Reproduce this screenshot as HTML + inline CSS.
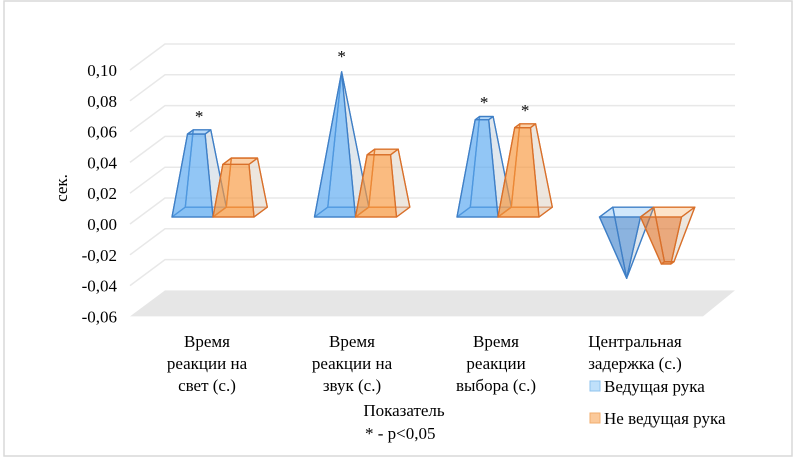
<!DOCTYPE html>
<html><head><meta charset="utf-8"><style>
body{margin:0;background:#fff}
svg{display:block}
text{font-family:"Liberation Serif","Times New Roman","DejaVu Serif",serif}
</style></head><body>
<svg id="c" width="795" height="458" viewBox="0 0 795 458">
<rect x="4" y="1" width="788" height="455" fill="#fff" stroke="#d9d9d9" stroke-width="1.5"/>
<g id="grid"></g><g id="bars"></g><g id="txt"></g>
</svg>
<script>
const categories=[["Время","реакции на","свет (с.)"],["Время","реакции на","звук (с.)"],["Время","реакции","выбора (с.)"],["Центральная","задержка (с.)"]];
const leading=[0.052,0.091,0.061,-0.043];
const nonLeading=[0.033,0.039,0.056,-0.033];
const sig1=[true,true,true,false];
const sig2=[false,false,true,false];
const ticks=[-0.06,-0.04,-0.02,0,0.02,0.04,0.06,0.08,0.10];
const tickLabels=["-0,06","-0,04","-0,02","0,00","0,02","0,04","0,06","0,08","0,10"];
const NS="http://www.w3.org/2000/svg";
const K=1540,Y0=224,DX=35,DY=26,X0=130;
function py(v,z){return Y0-v*K-z*DY;}
function px(x,z){return x+z*DX;}
function mk(tag,attrs,parent){const e=document.createElementNS(NS,tag);for(const k in attrs)e.setAttribute(k,attrs[k]);parent.appendChild(e);return e;}
const grid=document.getElementById('grid'),bars=document.getElementById('bars'),txt=document.getElementById('txt');
const fl=mk('polygon',{points:`${px(X0,0)},${py(-0.06,0)} 703,${py(-0.06,0)} ${px(700,1)},${py(-0.06,1)} ${px(X0,1)},${py(-0.06,1)}`,fill:'#e6e6e6'},grid);


ticks.forEach((t,i)=>{
 if(t>-0.06){
 const g=mk('polyline',{points:`${px(X0,0)},${py(t,0)} ${px(X0,1)},${py(t,1)} 735,${py(t,1)}`,fill:'none',stroke:'#e8e8e8','stroke-width':1.5},grid);
 
 }
 const l=mk('text',{x:117,y:py(t,0)+6,'text-anchor':'end','font-size':17,fill:'#000'},txt);
 l.textContent=tickLabels[i];
 
 
});
const yt=mk('text',{x:0,y:0,transform:'translate(67,188) rotate(-90)','text-anchor':'middle','font-size':17},txt);
yt.textContent='сек.';


const vmax=Math.max(...leading,...nonLeading),vmin=Math.min(...leading,...nonLeading);
const W=41,Z1=0.27,Z2=0.65,GAP=142.5,C0=213;
function frustum(cx,v,fill,stroke,name){
 const s=v>=0?1-v/vmax:1-v/vmin;
 const zc=(Z1+Z2)/2;
 const hw=W/2;
 const b=[[cx-hw,Z1],[cx+hw,Z1],[cx+hw,Z2],[cx-hw,Z2]];
 const t=b.map(([x,z])=>[cx+(x-cx)*s,zc+(z-zc)*s]);
 const P=([x,z],val)=>[px(x,z),py(val,z)];
 const B=b.map(p=>P(p,0)),T=t.map(p=>P(p,v));
 const g=mk('g',{},bars);
 
 
 const neg=v<0;
 const poly=(pts,f,o)=>mk('polygon',{points:pts.map(p=>p.join(',')).join(' '),fill:f,'fill-opacity':o,stroke:stroke,'stroke-width':1.3,'stroke-linejoin':'round'},g);
 poly([B[3],B[2],T[2],T[3]],fill,0.15);
 poly([B[0],B[3],T[3],T[0]],fill,0.2);
 poly([B[0],B[1],B[2],B[3]],fill,neg?0.15:0.3);
 poly([B[1],B[2],T[2],T[1]],'#d9d9d9',0.45);
 poly([T[0],T[1],T[2],T[3]],fill,0.35);
 poly([B[0],B[1],T[1],T[0]],neg?(stroke):fill,neg?0.55:0.6);
}
categories.forEach((c,i)=>{
 const gc=C0+i*GAP-Z1*DX;
 frustum(gc-W/2,leading[i],'#5aa9f0','#3f7fc6','bar-leading-'+(i+1));
 frustum(gc+W/2,nonLeading[i],'#f7973f','#d9702a','bar-nonleading-'+(i+1));
 if(sig1[i]){const a=mk('text',{x:px(gc-W/2,0.46),y:py(leading[i],0.46)-10,'text-anchor':'middle','font-size':17},txt);a.textContent='*';
  
  }
 if(sig2[i]){const a=mk('text',{x:px(gc+W/2,0.46),y:py(nonLeading[i],0.46)-10,'text-anchor':'middle','font-size':17},txt);a.textContent='*';
  
  }
 const cxl=[207,352,496,635][i];
 c.forEach((line,j)=>{const l=mk('text',{x:cxl,y:347+j*22,'text-anchor':'middle','font-size':17},txt);l.textContent=line;
  
  });
});
const xt=mk('text',{x:404,y:416,'text-anchor':'middle','font-size':17},txt);xt.textContent='Показатель';


const nt=mk('text',{x:365,y:439,'font-size':17},txt);nt.textContent='* - p<0,05';


[['Ведущая рука','#bfe0fa','#8fc3ee',381],['Не ведущая рука','#fbc99a','#f2ad6e',413]].forEach(([n,f,s,y])=>{
 const g=mk('g',{},txt);
 
 
 mk('rect',{x:590,y:y,width:10,height:10,fill:f,stroke:s},g);
 const t=mk('text',{x:604,y:y+11,'font-size':17},g);t.textContent=n;
});
</script>
</body></html>
